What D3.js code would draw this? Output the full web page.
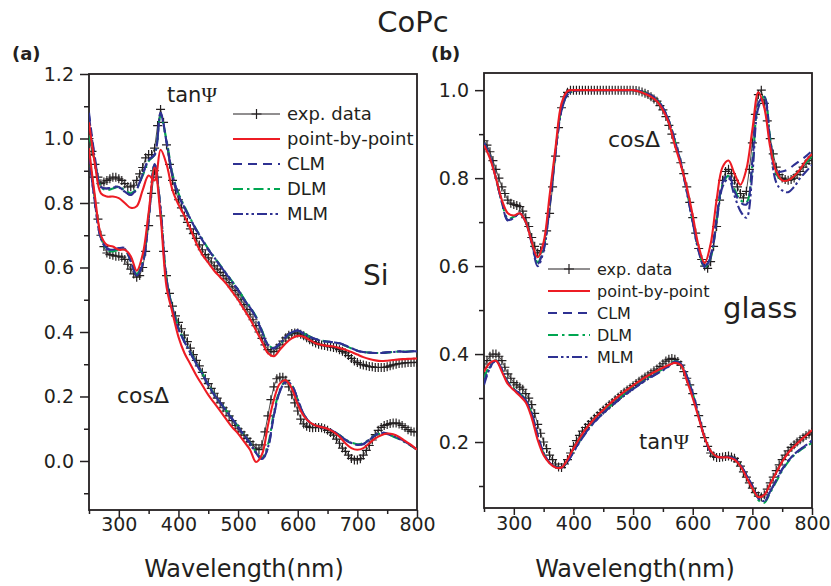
<!DOCTYPE html>
<html>
<head>
<meta charset="utf-8">
<script src="https://cdn.jsdelivr.net/npm/d3@7/dist/d3.min.js"></script>
<style>
  body { margin: 0; background: #fff; }
  svg text { font-family: "DejaVu Sans", sans-serif; fill: #231f20; }
</style>
</head>
<body>
<div class="graphContainer"></div>
<script>
// Wavelength grids (nm): measured points every 5 nm, fitted curves every 10 nm
const wlExp = [250,255,260,265,270,275,280,285,290,295,300,305,310,315,320,325,330,335,340,345,
  350,355,360,365,370,375,380,385,390,395,400,405,410,415,420,425,430,435,440,445,
  450,455,460,465,470,475,480,485,490,495,500,505,510,515,520,525,530,535,540,545,
  550,555,560,565,570,575,580,585,590,595,600,605,610,615,620,625,630,635,640,645,
  650,655,660,665,670,675,680,685,690,695,700,705,710,715,720,725,730,735,740,745,
  750,755,760,765,770,775,780,785,790,795,800];
const wlFit = [250,260,270,280,290,300,310,320,330,340,350,360,370,380,390,400,410,420,430,440,
  450,460,470,480,490,500,510,520,530,540,550,560,570,580,590,600,610,620,630,640,
  650,660,670,680,690,700,710,720,730,740,750,760,770,780,790,800];

// Panel (a): CoPc on Si
const expTanA = [1.00,0.96,0.92,0.88,0.86,0.865,0.87,0.875,0.88,0.88,
  0.875,0.87,0.86,0.85,0.85,0.855,0.87,0.89,0.91,0.94,
  0.95,0.95,0.97,1.04,1.09,1.05,0.98,0.92,0.87,0.84,
  0.81,0.785,0.76,0.74,0.72,0.705,0.69,0.67,0.655,0.64,
  0.63,0.617,0.605,0.595,0.585,0.575,0.565,0.553,0.54,0.528,
  0.515,0.50,0.485,0.47,0.455,0.438,0.42,0.40,0.38,0.36,
  0.345,0.338,0.34,0.35,0.36,0.372,0.382,0.39,0.395,0.397,
  0.397,0.393,0.388,0.382,0.376,0.37,0.366,0.362,0.36,0.358,
  0.356,0.354,0.352,0.35,0.345,0.34,0.335,0.327,0.318,0.31,
  0.305,0.30,0.298,0.295,0.293,0.292,0.29,0.29,0.29,0.29,
  0.292,0.295,0.298,0.30,0.302,0.303,0.304,0.305,0.305,0.306,
  0.306];
const expCosA = [0.95,0.88,0.80,0.75,0.70,0.665,0.645,0.64,0.638,0.635,
  0.635,0.632,0.625,0.61,0.595,0.58,0.57,0.575,0.60,0.65,
  0.73,0.83,0.90,0.88,0.76,0.65,0.575,0.52,0.48,0.45,
  0.43,0.41,0.39,0.37,0.35,0.33,0.312,0.295,0.275,0.255,
  0.24,0.225,0.21,0.195,0.18,0.165,0.155,0.14,0.125,0.11,
  0.10,0.09,0.08,0.07,0.06,0.05,0.04,0.035,0.05,0.09,
  0.14,0.19,0.23,0.255,0.26,0.26,0.25,0.23,0.205,0.18,
  0.155,0.13,0.115,0.108,0.104,0.103,0.104,0.104,0.103,0.10,
  0.095,0.088,0.08,0.068,0.055,0.04,0.03,0.018,0.008,0.003,
  0.003,0.007,0.018,0.033,0.048,0.065,0.082,0.095,0.104,0.11,
  0.113,0.116,0.118,0.118,0.115,0.11,0.104,0.097,0.092,0.09,
  0.09];
const pbpTanA = [1.05,0.92,0.83,0.82,0.82,0.815,0.80,0.785,0.79,0.84,
  0.885,0.87,0.965,0.92,0.84,0.795,0.76,0.72,0.675,0.64,
  0.615,0.59,0.57,0.55,0.525,0.50,0.47,0.44,0.405,0.37,
  0.335,0.325,0.345,0.365,0.38,0.388,0.385,0.375,0.365,0.36,
  0.357,0.355,0.35,0.345,0.338,0.33,0.322,0.316,0.312,0.31,
  0.311,0.313,0.315,0.316,0.317,0.318];
const clmTanA = [1.08,0.94,0.85,0.845,0.85,0.85,0.835,0.825,0.845,0.89,
  0.935,0.95,1.08,0.99,0.885,0.825,0.785,0.75,0.715,0.685,
  0.655,0.63,0.605,0.58,0.555,0.53,0.50,0.475,0.445,0.40,
  0.36,0.35,0.365,0.385,0.40,0.405,0.395,0.385,0.378,0.372,
  0.37,0.368,0.365,0.358,0.35,0.342,0.338,0.336,0.335,0.335,
  0.337,0.338,0.34,0.338,0.34,0.34];
const dlmTanA = [1.01,0.93,0.85,0.84,0.845,0.85,0.84,0.83,0.845,0.885,
  0.93,0.95,1.07,0.995,0.89,0.83,0.79,0.752,0.718,0.688,
  0.658,0.632,0.607,0.582,0.557,0.532,0.503,0.478,0.448,0.405,
  0.362,0.35,0.362,0.383,0.398,0.403,0.396,0.386,0.378,0.373,
  0.37,0.368,0.364,0.357,0.349,0.342,0.338,0.336,0.335,0.335,
  0.336,0.338,0.339,0.339,0.34,0.341];
const mlmTanA = [1.07,0.935,0.85,0.845,0.848,0.848,0.835,0.825,0.843,0.888,
  0.933,0.95,1.075,0.99,0.887,0.826,0.786,0.751,0.716,0.686,
  0.656,0.631,0.606,0.581,0.556,0.531,0.501,0.476,0.446,0.402,
  0.36,0.349,0.364,0.384,0.399,0.404,0.395,0.385,0.378,0.372,
  0.37,0.368,0.365,0.358,0.35,0.342,0.338,0.336,0.335,0.335,
  0.337,0.338,0.34,0.338,0.34,0.34];
const pbpCosA = [0.97,0.82,0.70,0.67,0.665,0.655,0.655,0.635,0.59,0.64,
  0.77,0.91,0.76,0.54,0.46,0.385,0.335,0.30,0.265,0.235,
  0.205,0.18,0.155,0.13,0.105,0.085,0.06,0.035,-0.003,0.02,
  0.11,0.19,0.24,0.25,0.225,0.175,0.14,0.12,0.11,0.105,
  0.10,0.09,0.075,0.055,0.04,0.035,0.04,0.055,0.07,0.08,
  0.085,0.083,0.075,0.062,0.05,0.035];
const clmCosA = [0.95,0.80,0.69,0.66,0.655,0.66,0.66,0.62,0.575,0.61,
  0.75,0.92,0.78,0.56,0.47,0.41,0.37,0.335,0.30,0.27,
  0.235,0.205,0.18,0.155,0.13,0.105,0.08,0.055,0.025,0.005,
  0.04,0.14,0.215,0.245,0.235,0.19,0.145,0.12,0.11,0.105,
  0.10,0.092,0.08,0.065,0.055,0.05,0.052,0.065,0.08,0.088,
  0.085,0.078,0.07,0.06,0.048,0.035];
const dlmCosA = [0.96,0.81,0.695,0.655,0.65,0.655,0.655,0.62,0.58,0.62,
  0.76,0.92,0.78,0.565,0.475,0.415,0.372,0.338,0.303,0.272,
  0.238,0.207,0.182,0.157,0.132,0.107,0.082,0.057,0.028,0.01,
  0.05,0.15,0.22,0.248,0.235,0.19,0.145,0.12,0.11,0.106,
  0.10,0.092,0.08,0.067,0.057,0.052,0.055,0.067,0.08,0.085,
  0.083,0.076,0.068,0.058,0.047,0.035];
const mlmCosA = [0.95,0.80,0.69,0.658,0.655,0.66,0.658,0.62,0.575,0.612,
  0.752,0.92,0.78,0.56,0.47,0.41,0.37,0.336,0.301,0.271,
  0.236,0.206,0.181,0.156,0.131,0.106,0.081,0.056,0.026,0.006,
  0.042,0.142,0.216,0.245,0.235,0.19,0.145,0.12,0.11,0.105,
  0.10,0.092,0.08,0.066,0.056,0.05,0.053,0.066,0.08,0.087,
  0.084,0.077,0.069,0.059,0.048,0.035];

// Panel (b): CoPc on glass
const expCosB = [0.885,0.875,0.86,0.84,0.82,0.80,0.78,0.765,0.75,0.743,
  0.74,0.738,0.735,0.725,0.71,0.69,0.665,0.645,0.63,0.635,
  0.65,0.68,0.72,0.78,0.85,0.915,0.96,0.985,0.995,1.0,
  1.0,1.0,1.0,1.0,1.0,1.0,1.0,1.0,1.0,1.0,
  1.0,1.0,1.0,1.0,1.0,1.0,1.0,1.0,1.0,1.0,
  1.0,0.999,0.998,0.996,0.993,0.99,0.985,0.98,0.975,0.965,
  0.955,0.94,0.92,0.90,0.88,0.86,0.835,0.81,0.78,0.745,
  0.71,0.675,0.64,0.615,0.60,0.595,0.61,0.645,0.69,0.75,
  0.795,0.815,0.82,0.81,0.795,0.78,0.765,0.755,0.77,0.82,
  0.88,0.945,0.99,1.0,0.97,0.93,0.89,0.855,0.825,0.808,
  0.80,0.797,0.795,0.797,0.80,0.808,0.815,0.825,0.833,0.84,
  0.848];
const expTanB = [0.37,0.385,0.395,0.40,0.40,0.395,0.385,0.37,0.355,0.345,
  0.335,0.33,0.325,0.32,0.31,0.30,0.285,0.265,0.24,0.22,
  0.20,0.185,0.17,0.16,0.15,0.143,0.142,0.15,0.16,0.175,
  0.19,0.203,0.215,0.225,0.233,0.24,0.247,0.254,0.26,0.267,
  0.273,0.279,0.285,0.29,0.296,0.302,0.308,0.313,0.318,0.323,
  0.328,0.333,0.338,0.343,0.348,0.352,0.357,0.362,0.366,0.372,
  0.378,0.384,0.388,0.39,0.388,0.383,0.375,0.36,0.345,0.33,
  0.31,0.285,0.26,0.235,0.21,0.19,0.175,0.168,0.165,0.165,
  0.166,0.167,0.168,0.166,0.163,0.155,0.145,0.132,0.12,0.107,
  0.095,0.085,0.077,0.075,0.08,0.093,0.107,0.12,0.135,0.148,
  0.16,0.17,0.18,0.188,0.194,0.20,0.205,0.21,0.215,0.218,
  0.222];
const pbpCosB = [0.875,0.845,0.80,0.75,0.72,0.715,0.72,0.70,0.655,0.62,
  0.655,0.76,0.87,0.97,0.998,1.0,1.0,1.0,1.0,1.0,
  1.0,1.0,1.0,1.0,1.0,1.0,0.997,0.992,0.985,0.975,
  0.955,0.925,0.875,0.83,0.78,0.715,0.645,0.607,0.65,0.75,
  0.825,0.84,0.81,0.785,0.82,0.91,0.995,0.96,0.87,0.815,
  0.795,0.795,0.805,0.82,0.84,0.855];
const clmCosB = [0.88,0.85,0.80,0.745,0.705,0.71,0.72,0.70,0.655,0.605,
  0.64,0.74,0.86,0.955,0.99,0.998,1.0,1.0,1.0,1.0,
  1.0,1.0,1.0,1.0,1.0,1.0,0.998,0.994,0.988,0.978,
  0.96,0.93,0.885,0.835,0.77,0.70,0.635,0.60,0.625,0.71,
  0.79,0.81,0.77,0.745,0.74,0.84,0.97,0.985,0.885,0.815,
  0.815,0.82,0.83,0.84,0.85,0.862];
const dlmCosB = [0.88,0.85,0.80,0.745,0.708,0.712,0.72,0.70,0.655,0.608,
  0.645,0.745,0.862,0.957,0.99,0.998,1.0,1.0,1.0,1.0,
  1.0,1.0,1.0,1.0,1.0,1.0,0.998,0.994,0.988,0.978,
  0.96,0.93,0.885,0.835,0.772,0.702,0.637,0.597,0.62,0.705,
  0.785,0.805,0.775,0.75,0.745,0.83,0.965,0.985,0.89,0.81,
  0.795,0.795,0.805,0.82,0.835,0.85];
const mlmCosB = [0.88,0.85,0.80,0.745,0.703,0.71,0.72,0.70,0.652,0.60,
  0.635,0.735,0.858,0.953,0.99,0.998,1.0,1.0,1.0,1.0,
  1.0,1.0,1.0,1.0,1.0,1.0,0.998,0.994,0.988,0.978,
  0.96,0.93,0.885,0.835,0.77,0.70,0.633,0.598,0.62,0.70,
  0.78,0.80,0.76,0.725,0.71,0.81,0.96,0.985,0.875,0.79,
  0.772,0.768,0.78,0.80,0.815,0.83];
const pbpTanB = [0.36,0.38,0.385,0.36,0.332,0.318,0.305,0.29,0.255,0.205,
  0.17,0.152,0.142,0.142,0.16,0.185,0.208,0.228,0.245,0.26,
  0.273,0.286,0.298,0.309,0.319,0.329,0.338,0.347,0.355,0.362,
  0.369,0.375,0.38,0.375,0.34,0.30,0.255,0.21,0.18,0.167,
  0.165,0.165,0.16,0.145,0.12,0.095,0.075,0.08,0.105,0.13,
  0.155,0.175,0.19,0.203,0.215,0.227];
const clmTanB = [0.335,0.37,0.385,0.365,0.335,0.32,0.31,0.295,0.265,0.215,
  0.175,0.153,0.143,0.142,0.155,0.178,0.20,0.22,0.238,0.253,
  0.266,0.278,0.29,0.301,0.311,0.321,0.331,0.34,0.348,0.356,
  0.364,0.373,0.383,0.378,0.35,0.31,0.26,0.21,0.178,0.167,
  0.165,0.166,0.162,0.148,0.125,0.10,0.072,0.065,0.088,0.113,
  0.138,0.157,0.172,0.183,0.193,0.203];
const dlmTanB = [0.345,0.375,0.386,0.364,0.336,0.322,0.31,0.296,0.265,0.214,
  0.174,0.153,0.143,0.142,0.156,0.18,0.202,0.222,0.24,0.255,
  0.268,0.28,0.292,0.303,0.313,0.323,0.333,0.342,0.35,0.358,
  0.366,0.374,0.384,0.378,0.35,0.31,0.26,0.21,0.178,0.167,
  0.165,0.166,0.162,0.147,0.123,0.097,0.068,0.062,0.085,0.11,
  0.135,0.155,0.17,0.181,0.19,0.198];
const mlmTanB = [0.33,0.368,0.385,0.365,0.335,0.32,0.31,0.295,0.265,0.215,
  0.175,0.153,0.143,0.142,0.155,0.177,0.199,0.219,0.237,0.252,
  0.265,0.277,0.289,0.30,0.31,0.32,0.33,0.339,0.347,0.355,
  0.363,0.372,0.383,0.378,0.35,0.31,0.26,0.21,0.178,0.167,
  0.165,0.166,0.162,0.148,0.125,0.10,0.073,0.066,0.088,0.113,
  0.138,0.157,0.172,0.183,0.193,0.203];

// Tick values
const xTicks = [300,400,500,600,700,800];
const xMinor = [250,350,450,550,650,750];
const yTicksA = [0.0,0.2,0.4,0.6,0.8,1.0,1.2];
const yMinorA = [-0.1,0.1,0.3,0.5,0.7,0.9,1.1];
const yTicksB = [0.2,0.4,0.6,0.8,1.0];
const yMinorB = [0.1,0.3,0.5,0.7,0.9];
const legendLabels = ["exp. data","point-by-point","CLM","DLM","MLM"];

// Set size and style constants
const w = 831;
const h = 586;
const ink = "#231f20";
const red = "#ed1c24";
const blue = "#2e3192";
const green = "#00a651";
const fitStyles = [
  {color: red, dash: null},
  {color: blue, dash: "9,6"},
  {color: green, dash: "10,4,2.5,4"},
  {color: blue, dash: "10,3,2.5,3,2.5,3"}
];

const svg = d3.select(".graphContainer").append("svg")
  .attr("width", w)
  .attr("height", h)
  .style("background", "#fff");

// Plus sign path for the measured data
const plus = (px, py, s) => `M${px - s},${py}H${px + s}M${px},${py - s}V${py + s}`;

function drawPanel(cfg) {
  const x = d3.scaleLinear().domain([250, 800]).range([cfg.left, cfg.right]);
  const y = d3.scaleLinear().domain(cfg.yDomain).range([cfg.bottom, cfg.top]);
  const g = svg.append("g");

  // clip the curves to the plot box
  g.append("clipPath").attr("id", "clip" + cfg.id)
    .append("rect")
    .attr("x", cfg.left).attr("y", cfg.top)
    .attr("width", cfg.right - cfg.left).attr("height", cfg.bottom - cfg.top);

  // Minor ticks
  g.append("g").attr("transform", "translate(0," + cfg.bottom + ")")
    .attr("color", ink)
    .call(d3.axisBottom(x).tickValues(xMinor).tickSize(4).tickFormat(""))
    .call(s => s.select(".domain").remove())
    .selectAll("line").attr("stroke-width", 1.5);
  g.append("g").attr("transform", "translate(" + cfg.left + ",0)")
    .attr("color", ink)
    .call(d3.axisLeft(y).tickValues(cfg.yMinor).tickSize(5).tickFormat(""))
    .call(s => s.select(".domain").remove())
    .selectAll("line").attr("stroke-width", 1.5);

  // Major ticks and labels
  const xg = g.append("g").attr("transform", "translate(0," + cfg.bottom + ")")
    .attr("color", ink)
    .call(d3.axisBottom(x).tickValues(xTicks).tickSize(7).tickPadding(cfg.xPad).tickFormat(d3.format("d")));
  xg.select(".domain").remove();
  xg.selectAll("line").attr("stroke-width", 1.5);
  xg.selectAll("text").attr("font-size", 19).attr("font-family", "DejaVu Sans");

  const yg = g.append("g").attr("transform", "translate(" + cfg.left + ",0)")
    .attr("color", ink)
    .call(d3.axisLeft(y).tickValues(cfg.yTicks).tickSize(9).tickPadding(6).tickFormat(d3.format(".1f")));
  yg.select(".domain").remove();
  yg.selectAll("line").attr("stroke-width", 1.5);
  yg.selectAll("text").attr("font-size", 19).attr("font-family", "DejaVu Sans");

  // Frame
  g.append("rect")
    .attr("x", cfg.left).attr("y", cfg.top)
    .attr("width", cfg.right - cfg.left).attr("height", cfg.bottom - cfg.top)
    .attr("fill", "none").attr("stroke", ink).attr("stroke-width", 1.8);

  const plot = g.append("g").attr("clip-path", "url(#clip" + cfg.id + ")");

  // measured data: thin line plus crosses
  const expLine = d3.line().x((d, i) => x(wlExp[i])).y(d => y(d));
  cfg.exp.forEach(series => {
    plot.append("path").datum(series)
      .attr("d", expLine)
      .attr("fill", "none").attr("stroke", ink).attr("stroke-width", 0.8);
    plot.append("path")
      .attr("d", series.map((v, i) => plus(x(wlExp[i]), y(v), 4.5)).join(""))
      .attr("fill", "none").attr("stroke", ink).attr("stroke-width", 1.2);
  });

  // fitted curves: DLM, MLM, CLM, then point-by-point on top
  const fitLine = d3.line().curve(d3.curveCatmullRom.alpha(0.5))
    .x((d, i) => x(wlFit[i])).y(d => y(d));
  [2, 3, 1, 0].forEach(k => {
    cfg.fits.forEach(set => {
      plot.append("path").datum(set[k])
        .attr("d", fitLine)
        .attr("fill", "none")
        .attr("stroke", fitStyles[k].color)
        .attr("stroke-width", 2.1)
        .attr("stroke-dasharray", fitStyles[k].dash);
    });
  });

  // Legend
  const lg = g.append("g");
  legendLabels.forEach((name, i) => {
    const ly = cfg.legY + i * cfg.legStep;
    if (i === 0) {
      lg.append("line").attr("x1", cfg.legX0).attr("x2", cfg.legX1).attr("y1", ly).attr("y2", ly)
        .attr("stroke", ink).attr("stroke-width", 1);
      lg.append("path").attr("d", plus((cfg.legX0 + cfg.legX1) / 2, ly, 5))
        .attr("stroke", ink).attr("stroke-width", 1.2);
    } else {
      const st = fitStyles[i - 1];
      lg.append("line").attr("x1", cfg.legX0).attr("x2", cfg.legX1).attr("y1", ly).attr("y2", ly)
        .attr("stroke", st.color).attr("stroke-width", 2.1).attr("stroke-dasharray", st.dash);
    }
    lg.append("text").attr("x", cfg.legX1 + 7).attr("y", ly).attr("dy", "0.36em")
      .attr("font-size", cfg.legFont).text(name);
  });

  // Axis title
  g.append("text").attr("x", cfg.titleX).attr("y", 577)
    .attr("text-anchor", "middle").attr("font-size", 24)
    .text("Wavelength(nm)");

  // Panel letter
  g.append("text").attr("x", cfg.letterX).attr("y", 60)
    .attr("font-size", 18).attr("font-weight", "bold")
    .text(cfg.letter);
}

// Curve labels like tanΨ / cosΔ
function label(px, py, size, base, greek, serif) {
  const t = svg.append("text").attr("x", px).attr("y", py).attr("font-size", size);
  t.append("tspan").text(base);
  const gk = t.append("tspan").text(greek);
  if (serif) gk.attr("font-family", "Liberation Serif, serif");
}

drawPanel({
  id: "a", letter: "(a)", letterX: 12,
  left: 89, right: 417, top: 74, bottom: 510,
  yDomain: [-0.152, 1.2], yTicks: yTicksA, yMinor: yMinorA, xPad: 1,
  exp: [expTanA, expCosA],
  fits: [[pbpTanA, clmTanA, dlmTanA, mlmTanA], [pbpCosA, clmCosA, dlmCosA, mlmCosA]],
  legX0: 233, legX1: 280, legY: 114, legStep: 25, legFont: 18,
  titleX: 244
});

drawPanel({
  id: "b", letter: "(b)", letterX: 431,
  left: 484, right: 812, top: 73, bottom: 508,
  yDomain: [0.05, 1.039], yTicks: yTicksB, yMinor: yMinorB, xPad: 2,
  exp: [expCosB, expTanB],
  fits: [[pbpCosB, clmCosB, dlmCosB, mlmCosB], [pbpTanB, clmTanB, dlmTanB, mlmTanB]],
  legX0: 548, legX1: 590, legY: 269, legStep: 22, legFont: 16,
  titleX: 635
});

// Main title and panel annotations
svg.append("text").attr("x", 413).attr("y", 32)
  .attr("text-anchor", "middle").attr("font-size", 29)
  .text("CoPc");

label(167, 102, 21, "tan", "Ψ", true);
label(117, 403, 22, "cos", "Δ", false);
label(608, 147, 22, "cos", "Δ", false);
label(639, 449, 21, "tan", "Ψ", true);

svg.append("text").attr("x", 363).attr("y", 285).attr("font-size", 28).text("Si");
svg.append("text").attr("x", 723).attr("y", 318).attr("font-size", 29).text("glass");
</script>
</body>
</html>
